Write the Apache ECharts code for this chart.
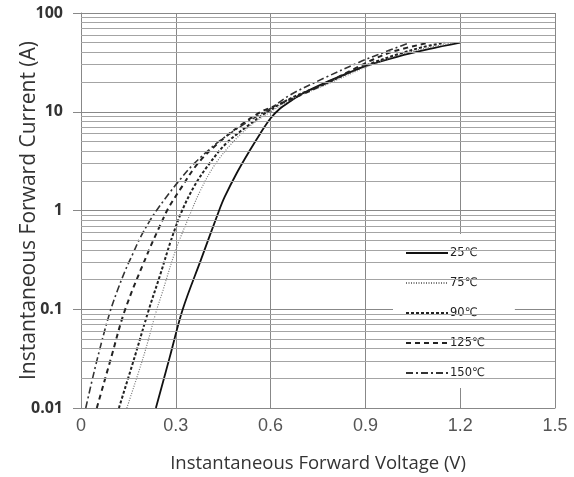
<!DOCTYPE html>
<html>
<head>
<meta charset="utf-8">
<script src="https://cdn.jsdelivr.net/npm/echarts@6/dist/echarts.min.js"></script>
<style>
html,body{margin:0;padding:0;background:#fff;}
#chart{width:574px;height:477px;}
</style>
</head>
<body>
<div id="chart"></div>
<script>
// ---- data ----
const seriesNames = ['25℃', '75℃', '90℃', '125℃', '150℃'];

const volts25 = [0.237, 0.28, 0.322, 0.38, 0.437, 0.455, 0.493, 0.535, 0.567, 0.6, 0.63, 0.66, 0.7, 0.77, 0.85, 0.9, 1.0, 1.1, 1.2];
const amps25  = [0.01, 0.032, 0.1, 0.32, 1.0, 1.38, 2.4, 4.1, 6.0, 8.6, 10.8, 12.6, 15.2, 19.5, 25, 29, 36, 43, 50];

const volts75 = [0.145, 0.2, 0.24, 0.255, 0.3, 0.35, 0.376, 0.42, 0.48, 0.54, 0.6, 0.67, 0.77, 0.85, 0.92, 1.0, 1.09, 1.18];
const amps75  = [0.01, 0.035, 0.1, 0.14, 0.4, 1.0, 1.55, 2.8, 4.9, 7.4, 10, 13.5, 18.5, 24, 30, 37, 44, 50];

const volts90 = [0.12, 0.17, 0.215, 0.25, 0.285, 0.32, 0.36, 0.4, 0.46, 0.53, 0.59, 0.67, 0.77, 0.85, 0.92, 1.0, 1.08, 1.15];
const amps90  = [0.01, 0.033, 0.1, 0.22, 0.5, 1.0, 1.8, 2.8, 4.8, 7.3, 10, 14, 19, 25, 31, 38, 45, 50];

const volts125 = [0.05, 0.095, 0.14, 0.217, 0.249, 0.276, 0.313, 0.37, 0.44, 0.51, 0.57, 0.6, 0.7, 0.79, 0.863, 0.926, 0.99, 1.1];
const amps125  = [0.01, 0.032, 0.1, 0.41, 0.69, 1.05, 1.62, 3.0, 5.0, 7.5, 10, 11, 15, 20.5, 27, 34, 41, 50];

const volts150 = [0.015, 0.05, 0.09, 0.117, 0.143, 0.165, 0.186, 0.217, 0.239, 0.276, 0.313, 0.354, 0.408, 0.44, 0.48, 0.525, 0.567, 0.6, 0.662, 0.768, 0.879, 0.937, 1.04];
const amps150  = [0.01, 0.03, 0.09, 0.16, 0.26, 0.37, 0.52, 0.78, 1.0, 1.45, 2.05, 2.9, 4.2, 5.1, 6.3, 7.8, 9.4, 10.8, 14.8, 21.8, 31.6, 37.6, 50];

const xTicks = ['0', '0.3', '0.6', '0.9', '1.2', '1.5'];
const yTickLabels = {'0.01': '0.01', '0.1': '0.1', '1': '1', '10': '10', '100': '100'};
const decades = [0.01, 0.1, 1, 10];
const minorSteps = [2, 3, 4, 5, 6, 7, 8, 9];

// ---- build ----
function zip(xs, ys) { return xs.map((x, i) => [x, ys[i]]); }
const minorValues = [];
decades.forEach(d => minorSteps.forEach(m => minorValues.push(+(d * m).toPrecision(3))));

const styles = [
  {color: '#111', width: 1.8, type: 'solid'},
  {color: '#777', width: 1.2, type: [1, 1.5]},
  {color: '#222', width: 2, type: [3, 2]},
  {color: '#222', width: 2, type: [5, 4]},
  {color: '#333', width: 1.6, type: [7, 3, 2, 3]}
];
const dataSets = [zip(volts25, amps25), zip(volts75, amps75), zip(volts90, amps90), zip(volts125, amps125), zip(volts150, amps150)];

const series = dataSets.map((d, i) => ({
  name: seriesNames[i],
  type: 'line',
  data: d,
  symbol: 'none',
  smooth: 0.35,
  lineStyle: styles[i],
  itemStyle: {color: styles[i].color},
  z: 3
}));
series.push({
  type: 'line',
  data: [],
  silent: true,
  markLine: {
    silent: true,
    symbol: 'none',
    label: {show: false},
    lineStyle: {color: '#a4a4a4', width: 1, type: 'solid'},
    data: minorValues.map(v => ({yAxis: v}))
  },
  z: 1
});

const chart = echarts.init(document.getElementById('chart'), null, {renderer: 'canvas'});
chart.setOption({
  animation: false,
  backgroundColor: '#fff',
  grid: {left: 81, right: 19, top: 13, bottom: 69, containLabel: false, outerBoundsMode: 'none'},
  xAxis: {
    type: 'value', min: 0, max: 1.5, interval: 0.3,
    name: 'Instantaneous Forward Voltage (V)',
    nameLocation: 'middle', nameGap: 46, nameMoveOverlap: false,
    nameTextStyle: {fontFamily: 'Open Sans, sans-serif', fontSize: 18.5, color: '#333'},
    axisLine: {lineStyle: {color: '#888', width: 1}},
    axisTick: {show: false},
    axisLabel: {
      fontFamily: 'Liberation Sans, Arial, sans-serif', fontSize: 18, color: '#555', margin: 9,
      formatter: v => xTicks[Math.round(v / 0.3)]
    },
    splitLine: {show: true, lineStyle: {color: '#888', width: 1}}
  },
  yAxis: {
    type: 'log', logBase: 10, min: 0.01, max: 100,
    name: 'Instantaneous Forward Current (A)',
    nameLocation: 'middle', nameGap: 41, nameMoveOverlap: false,
    nameTextStyle: {fontFamily: 'Open Sans, sans-serif', fontSize: 21, color: '#333'},
    axisLine: {show: true, lineStyle: {color: '#888', width: 1}},
    axisTick: {show: true, length: 8, lineStyle: {color: '#888'}},
    axisLabel: {
      fontFamily: 'Open Sans, sans-serif', fontSize: 16, fontWeight: 'bold', color: '#333', margin: 18,
      formatter: v => yTickLabels[String(+v.toPrecision(3))] || ''
    },
    splitLine: {show: true, lineStyle: {color: '#888', width: 1}}
  },
  legend: {
    data: seriesNames,
    orient: 'vertical',
    left: 393, top: 234,
    width: 130,
    padding: [13, 30, 9, 12],
    itemWidth: 42, itemHeight: 14, itemGap: 18,
    itemStyle: {opacity: 0},
    backgroundColor: '#fff',
    textStyle: {fontFamily: 'DejaVu Sans, sans-serif', fontSize: 11.5, color: '#222', padding: [0, 0, 0, -3]}
  },
  series: series
});
</script>
</body>
</html>
